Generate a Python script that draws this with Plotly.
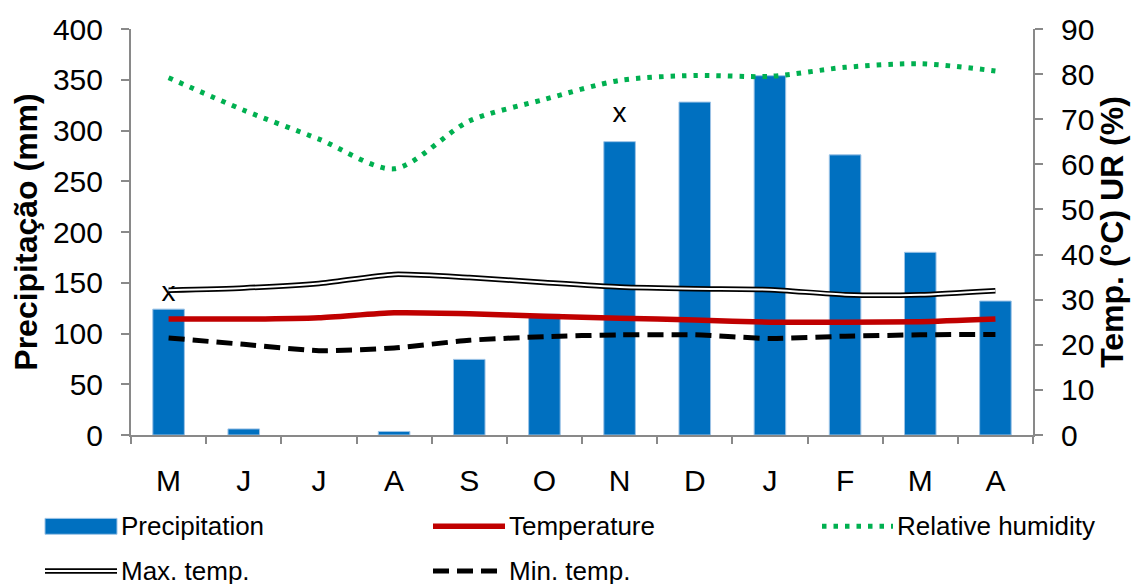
import plotly.graph_objects as go

months = ["M", "J", "J", "A", "S", "O", "N", "D", "J", "F", "M", "A"]
precipitation = [124, 6, 0, 3.5, 74.5, 119, 289, 328, 354, 276, 180, 132]
temperature = [25.7, 25.7, 26.0, 27.1, 26.9, 26.3, 25.9, 25.5, 25.0, 25.0, 25.1, 25.7]
max_temp = [32.1, 32.6, 33.6, 35.6, 34.9, 33.8, 32.8, 32.4, 32.2, 31.1, 31.1, 32.0]
min_temp = [21.5, 20.1, 18.7, 19.3, 21.0, 21.8, 22.2, 22.2, 21.4, 21.9, 22.2, 22.3]
humidity = [79.2, 72.0, 65.6, 59.0, 69.6, 74.4, 78.6, 79.7, 79.5, 81.5, 82.3, 80.7]
marks_idx = [0, 6]
marks_val = [139, 315]
marks_txt = ["x", "x"]

x = list(range(len(months)))
FONT = "Liberation Sans, Arial, sans-serif"

bar_edge = [1 if v > 0 else 0 for v in precipitation]

fig = go.Figure()
fig.add_trace(go.Bar(x=x, y=precipitation, width=0.42,
                     marker=dict(color="#0070C0", line=dict(color="#9DC3E6", width=bar_edge)),
                     name="Precipitation", yaxis="y", showlegend=False))
fig.add_trace(go.Scatter(x=x, y=humidity, mode="lines", line=dict(color="#00B050", width=5, dash="4.5px,7px", shape="spline", smoothing=0.8),
                         yaxis="y2", showlegend=False))
fig.add_trace(go.Scatter(x=x, y=max_temp, mode="lines", line=dict(color="black", width=5.5, shape="spline", smoothing=0.6),
                         yaxis="y2", showlegend=False))
fig.add_trace(go.Scatter(x=x, y=max_temp, mode="lines", line=dict(color="white", width=2, shape="spline", smoothing=0.6),
                         yaxis="y2", showlegend=False))
fig.add_trace(go.Scatter(x=x, y=temperature, mode="lines", line=dict(color="#C00000", width=5.5, shape="spline", smoothing=0.6),
                         yaxis="y2", showlegend=False))
fig.add_trace(go.Scatter(x=x, y=min_temp, mode="lines", line=dict(color="black", width=5, dash="16px,8px", shape="spline", smoothing=0.6),
                         yaxis="y2", showlegend=False))
fig.add_trace(go.Scatter(x=marks_idx, y=marks_val, mode="text", text=marks_txt, textposition="middle center",
                         textfont=dict(size=28, color="black", family=FONT), yaxis="y", showlegend=False))

axis_col = "#898989"
fig.update_layout(
    width=1140, height=584,
    margin=dict(l=131, r=107, t=26, b=149),
    paper_bgcolor="white", plot_bgcolor="white",
    font=dict(family=FONT, color="black", size=26),
    xaxis=dict(range=[-0.5, 11.5], tickmode="array", tickvals=x, ticktext=months, ticks="",
               showgrid=False, zeroline=False, showline=True, linecolor=axis_col, linewidth=2,
               tickfont=dict(size=30), ticklabelstandoff=18, fixedrange=True),
    xaxis2=dict(range=[-0.5, 11.5], overlaying="x", side="bottom", anchor="y", tickmode="array",
                tickvals=[i - 0.5 for i in range(len(months) + 1)], showticklabels=False,
                ticks="outside", ticklen=8, tickwidth=2, tickcolor=axis_col, showgrid=False, zeroline=False,
                showline=False),
    yaxis=dict(range=[0, 400], dtick=50, ticks="outside", ticklen=8, tickwidth=2, tickcolor=axis_col,
               showline=True, linecolor=axis_col, linewidth=2, showgrid=False, zeroline=False,
               tickfont=dict(size=30), ticklabelstandoff=12,
               title=dict(text="<b>Precipitação (mm)</b>", font=dict(size=32), standoff=6)),
    yaxis2=dict(range=[0, 90], dtick=10, overlaying="y", side="right", anchor="x", ticks="outside", ticklen=8,
                tickwidth=2, tickcolor=axis_col, showline=True, linecolor=axis_col, linewidth=2,
                showgrid=False, zeroline=False, tickfont=dict(size=30), ticklabelstandoff=12,
                title=dict(text="<b>Temp. (°C) UR (%)</b>", font=dict(size=32), standoff=6)),
)

# dummy trace so xaxis2 is drawn
fig.add_trace(go.Scatter(x=[None], y=[None], xaxis="x2", yaxis="y", showlegend=False, hoverinfo="skip"))


def px2paper(px, py):
    return (px - 131) / 902.0, (435 - py) / 409.0


# Manual legend
leg_font = dict(size=26, color="black", family=FONT)
rows = [527, 572]
items = [
    ("Precipitation", 45, 117, 0, "bar"),
    ("Temperature", 433, 505, 0, "temp"),
    ("Relative humidity", 822, 893, 0, "rh"),
    ("Max. temp.", 45, 117, 1, "max"),
    ("Min. temp.", 433, 505, 1, "min"),
]
shapes = []
annotations = []
for label, x0, x1, r, kind in items:
    yc = rows[r]
    px0, pyc = px2paper(x0, yc)
    px1, _ = px2paper(x1, yc)
    if kind == "bar":
        _, ya = px2paper(0, yc - 8)
        _, yb = px2paper(0, yc + 8)
        shapes.append(dict(type="rect", xref="paper", yref="paper", x0=px0, x1=px1, y0=yb, y1=ya,
                           fillcolor="#0070C0", line=dict(color="#9DC3E6", width=1)))
    elif kind == "temp":
        shapes.append(dict(type="line", xref="paper", yref="paper", x0=px0, x1=px1, y0=pyc, y1=pyc,
                           line=dict(color="#C00000", width=5.5)))
    elif kind == "rh":
        shapes.append(dict(type="line", xref="paper", yref="paper", x0=px0, x1=px1, y0=pyc, y1=pyc,
                           line=dict(color="#00B050", width=5, dash="4.5px,7px")))
    elif kind == "max":
        shapes.append(dict(type="line", xref="paper", yref="paper", x0=px0, x1=px1, y0=pyc, y1=pyc,
                           line=dict(color="black", width=5.5)))
        shapes.append(dict(type="line", xref="paper", yref="paper", x0=px0, x1=px1, y0=pyc, y1=pyc,
                           line=dict(color="white", width=2)))
    elif kind == "min":
        shapes.append(dict(type="line", xref="paper", yref="paper", x0=px0, x1=px1, y0=pyc, y1=pyc,
                           line=dict(color="black", width=5, dash="16px,8px")))
    tx, _ = px2paper(x1 + 2, yc)
    annotations.append(dict(text=label, xref="paper", yref="paper", x=tx, y=pyc, xanchor="left",
                            yanchor="middle", showarrow=False, font=leg_font))

fig.update_layout(shapes=shapes, annotations=annotations)

fig.write_html("out.html", config={"displayModeBar": False},
               post_script="document.body.style.margin='0';document.body.style.overflow='hidden';")
